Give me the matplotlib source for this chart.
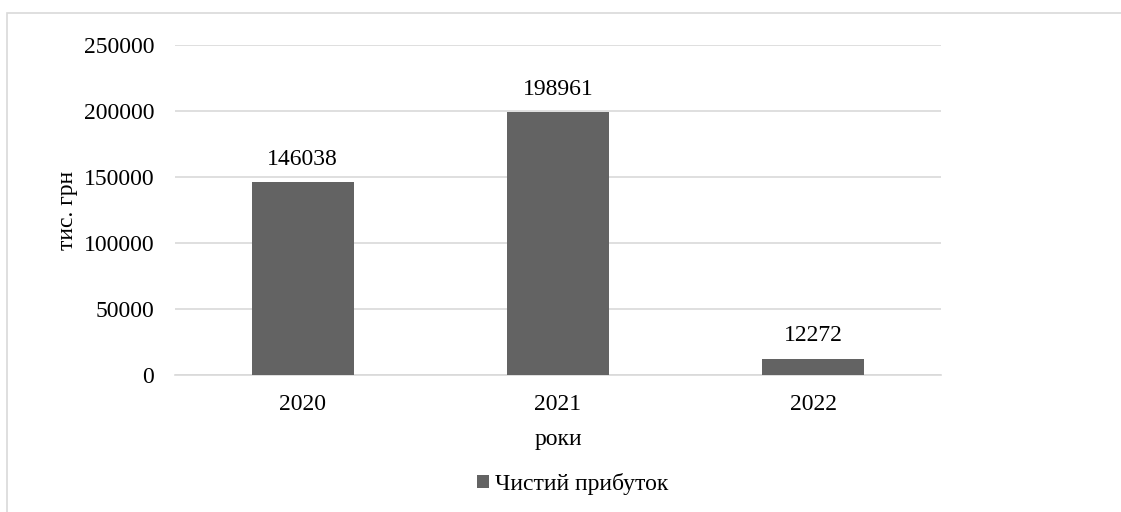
import matplotlib
matplotlib.use('Agg')
import matplotlib.pyplot as plt
from matplotlib.patches import Rectangle
import numpy as np

plt.rcParams['font.family'] = ['Liberation Serif', 'DejaVu Serif']

years = ['2020', '2021', '2022']
profit = [146038, 198961, 12272]
series_name = 'Чистий прибуток'

W, H = 1121, 512
fig = plt.figure(figsize=(W / 100, H / 100), dpi=100)

# outer chart frame (light grey, as in the office-style chart)
fig.patches.append(Rectangle((7 / W, -0.01), 1.02, (H - 13) / H + 0.01,
                             transform=fig.transFigure, fill=False,
                             edgecolor='#d9d9d9', linewidth=1.2))

ax = fig.add_axes([175 / W, (H - 375) / H, (941 - 175) / W, (375 - 45) / H])

x = np.arange(len(years))
bars = ax.bar(x, profit, width=0.4, color='#636363', label=series_name, zorder=3)

# value labels above bars
for xi, v in zip(x, profit):
    ax.annotate(str(v), (xi, v), xytext=(0, 12.5), textcoords='offset points',
                ha='center', va='baseline', fontsize=17)

ax.set_xlim(-0.5, 2.5)
ax.set_ylim(0, 250000)
ax.set_yticks(np.arange(0, 250001, 50000))
ax.set_xticks(x)
ax.set_xticklabels(years)
ax.tick_params(axis='both', length=0, labelsize=17)
ax.tick_params(axis='y', pad=15)
ax.tick_params(axis='x', pad=13.5)
ax.grid(axis='y', color='#d9d9d9', linewidth=1.2, zorder=0)
for s in ['top', 'right', 'left']:
    ax.spines[s].set_visible(False)
ax.spines['bottom'].set_color('#d9d9d9')
ax.spines['bottom'].set_linewidth(1.2)

ax.set_xlabel('роки', fontsize=17, labelpad=10)
ax.set_ylabel('тис. грн', fontsize=17, labelpad=4)

fig.legend(handles=[bars], labels=[series_name], loc='center',
           bbox_to_anchor=(573 / W, (H - 484) / H), frameon=False,
           fontsize=17, handlelength=0.5, handleheight=0.5, handletextpad=0.25)

fig.savefig('out.png', dpi=100)
